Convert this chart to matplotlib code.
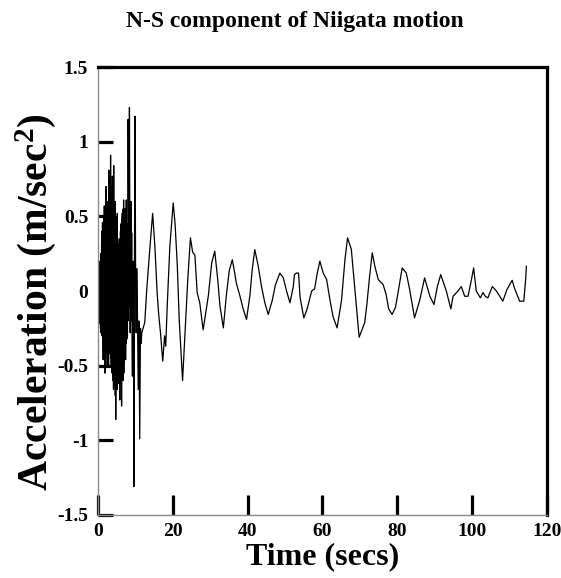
import matplotlib.pyplot as plt

plt.rcParams['font.family'] = 'Liberation Serif'
plt.rcParams['font.weight'] = 'bold'
plt.rcParams['mathtext.fontset'] = 'custom'
plt.rcParams['mathtext.rm'] = 'Liberation Serif:bold'
plt.rcParams['mathtext.it'] = 'Liberation Serif:bold'
plt.rcParams['mathtext.bf'] = 'Liberation Serif:bold'

# strong shaking phase (secs, m/sec2)
t_strong = [0.30, 0.36, 0.42, 0.48, 0.54, 0.60, 0.66, 0.72, 0.78, 0.84, 0.90, 0.96,
            1.02, 1.08, 1.14, 1.20, 1.26, 1.32, 1.38, 1.44, 1.50, 1.56, 1.62, 1.68,
            1.74, 1.80, 1.86, 1.92, 1.98, 2.04, 2.10, 2.16, 2.22, 2.28, 2.34, 2.40,
            2.46, 2.52, 2.58, 2.64, 2.70, 2.76, 2.82, 2.88, 2.94, 3.00, 3.06, 3.12,
            3.18, 3.24, 3.30, 3.36, 3.42, 3.48, 3.54, 3.60, 3.66, 3.72, 3.78, 3.84,
            3.90, 3.96, 4.02, 4.08, 4.14, 4.20, 4.26, 4.32, 4.38, 4.44, 4.50, 4.56,
            4.62, 4.68, 4.74, 4.80, 4.86, 4.92, 4.98, 5.04, 5.10, 5.16, 5.22, 5.28,
            5.34, 5.40, 5.46, 5.52, 5.58, 5.64, 5.70, 5.76, 5.82, 5.88, 5.94, 6.00,
            6.06, 6.12, 6.18, 6.24, 6.30, 6.36, 6.42, 6.48, 6.54, 6.60, 6.66, 6.72,
            6.78, 6.84, 6.90, 6.96, 7.02, 7.08, 7.14, 7.20, 7.26, 7.32, 7.38, 7.44,
            7.50, 7.56, 7.62, 7.68, 7.74, 7.80, 7.86, 7.92, 7.98, 8.05, 8.15, 8.25,
            8.32, 8.40, 8.50, 8.60, 8.70, 8.80, 8.90, 9.00, 9.10, 9.20, 9.30, 9.40,
            9.50, 9.60, 9.75, 9.90, 10.05, 10.20, 10.35, 10.50, 10.75, 10.95, 11.15,
            11.35, 11.55, 11.70]
acc_strong = [0.00, 0.15, -0.18, 0.20, -0.22, 0.12, -0.25, 0.25, -0.28, 0.18, -0.20, 0.32,
              -0.30, 0.40, -0.25, 0.46, -0.38, 0.30, -0.46, 0.38, -0.35, 0.50, -0.42, 0.57,
              -0.30, 0.42, -0.55, 0.35, -0.45, 0.62, -0.30, 0.70, -0.41, 0.48, -0.35, 0.58,
              -0.50, 0.40, -0.38, 0.60, -0.45, 0.52, -0.50, 0.81, -0.30, 0.65, -0.42, 0.55,
              -0.39, 0.75, -0.30, 0.91, -0.45, 0.60, -0.50, 0.70, -0.35, 0.50, -0.55, 0.77,
              -0.48, 0.62, -0.60, 0.45, -0.66, 0.84, -0.50, 0.55, -0.62, 0.48, -0.55, 0.60,
              -0.70, 0.40, -0.86, 0.50, -0.60, 0.45, -0.52, 0.38, -0.66, 0.52, -0.58, 0.35,
              -0.62, 0.30, -0.48, 0.28, -0.55, 0.32, -0.60, 0.25, -0.73, 0.35, -0.55, 0.40,
              -0.62, 0.45, -0.50, 0.38, -0.77, 0.48, -0.58, 0.52, -0.50, 0.45, -0.60, 0.55,
              -0.45, 0.61, -0.55, 0.50, -0.48, 0.45, -0.40, 0.55, -0.42, 0.48, -0.46, 0.52,
              -0.35, 0.61, -0.30, 0.45, -0.25, 0.40, -0.32, 0.35, -0.20, 1.15, 0.30, 0.60,
              -0.10, 1.23, 0.40, -0.28, 0.10, 0.60, -0.20, 0.39, -0.30, -0.57, 0.10, 0.20,
              -0.40, -1.31, 0.30, 1.17, 0.10, -0.28, 0.15, -0.05, -0.66, -0.20, -0.99,
              -0.25, -0.35, -0.28]

# later, longer-period part of the record
t_tail = [12.5, 13.0, 13.9, 14.6, 15.2, 15.8, 16.2, 16.7, 17.3, 17.8, 18.1, 18.5, 19.2,
          20.1, 20.6, 21.2, 21.7, 22.6, 23.4, 24.0, 24.7, 25.3, 25.9, 26.5, 27.2, 28.1,
          29.5, 30.4, 31.2, 32.0, 32.6, 33.5, 34.3, 35.1, 35.9, 36.4, 37.0, 37.9, 38.8,
          39.7, 40.6, 41.2, 41.9, 42.8, 43.7, 44.6, 45.5, 46.6, 47.4, 48.6, 49.5, 50.4,
          51.3, 52.2, 52.5, 53.0, 53.6, 54.0, 55.0, 55.9, 57.1, 57.9, 58.6, 59.3, 60.2,
          61.1, 62.0, 62.8, 63.9, 65.1, 66.0, 66.7, 67.7, 68.6, 69.8, 71.3, 71.9, 72.6,
          73.3, 74.0, 74.9, 76.2, 77.0, 77.7, 78.6, 79.5, 80.2, 81.3, 82.4, 83.3, 84.6,
          86.0, 87.3, 88.7, 89.8, 90.7, 91.6, 93.1, 94.3, 94.9, 96.2, 97.1, 98.0, 98.9,
          99.6, 100.4, 101.1, 102.2, 102.9, 103.5, 104.2, 105.4, 106.5, 108.2, 109.3,
          110.7, 111.3, 112.7, 113.8, 114.3, 114.5]
acc_tail = [-0.21, 0.0, 0.3, 0.52, 0.30, -0.01, -0.15, -0.28, -0.47, -0.30, -0.37, -0.1, 0.3,
            0.59, 0.45, 0.17, -0.19, -0.60, -0.21, 0.08, 0.356, 0.26, 0.24, -0.01, -0.08, -0.26,
            -0.03, 0.19, 0.267, 0.077, -0.1, -0.247, -0.03, 0.14, 0.21, 0.14, 0.05, -0.03, -0.12,
            -0.19, -0.03, 0.14, 0.278, 0.17, 0.03, -0.08, -0.157, -0.06, 0.04, 0.12, 0.09, 0.0,
            -0.079, 0.03, 0.11, 0.12, 0.12, -0.04, -0.18, -0.12, 0.0, 0.015, 0.12, 0.2, 0.12,
            0.077, -0.06, -0.17, -0.247, -0.06, 0.21, 0.356, 0.28, 0.03, -0.31, -0.21, -0.08, 0.1,
            0.256, 0.166, 0.077, 0.044, -0.023, -0.12, -0.157, -0.11, -0.01, 0.155, 0.12, 0.01, -0.18,
            -0.06, 0.088, -0.035, -0.09, 0.03, 0.11, 0.0, -0.12, -0.035, 0.0, 0.03, -0.035, -0.035,
            0.05, 0.155, 0.0, -0.046, -0.01, -0.035, -0.046, 0.03, 0.0, -0.068, 0.01,
            0.072, 0.02, -0.068, -0.068, 0.077, 0.166]

x_ticks = [0, 20, 40, 60, 80, 100, 120]
y_ticks = [-1.5, -1, -0.5, 0, 0.5, 1, 1.5]
y_tick_labels = ['-1.5', '-1', '-0.5', '0', '0.5', '1', '1.5']

fig = plt.figure(figsize=(5.61, 5.78), dpi=100)
ax = fig.add_axes([0.1747, 0.109, 0.8003, 0.775])

ax.plot(t_strong + t_tail, acc_strong + acc_tail, color='black', lw=0.9)

ax.set_xlim(0, 120)
ax.set_ylim(-1.5, 1.5)
ax.set_xticks(x_ticks)
ax.set_yticks(y_ticks)
ax.set_yticklabels(y_tick_labels)

for side in ['top', 'right']:
    ax.spines[side].set_linewidth(2.3)
    ax.spines[side].set_color('black')
for side in ['left', 'bottom']:
    ax.spines[side].set_linewidth(1.0)
    ax.spines[side].set_color('#8a8a8a')

ax.tick_params(axis='y', direction='in', length=11, width=2.3, pad=7, labelsize=14)
ax.tick_params(axis='x', direction='in', length=14.5, width=2.3, pad=6, labelsize=14)
for lab in ax.get_xticklabels() + ax.get_yticklabels():
    lab.set_fontweight('bold')

ax.set_xlabel('Time (secs)', fontsize=23, fontweight='bold', labelpad=1)
ax.set_ylabel('Acceleration (m/sec$^2$)', fontsize=30, fontweight='bold')
ax.yaxis.set_label_coords(-0.09, 0.475)

fig.text(0.526, 0.962, 'N-S component of Niigata motion', ha='center', va='center',
         fontsize=17, fontweight='bold')

fig.savefig('out.png', dpi=100)
